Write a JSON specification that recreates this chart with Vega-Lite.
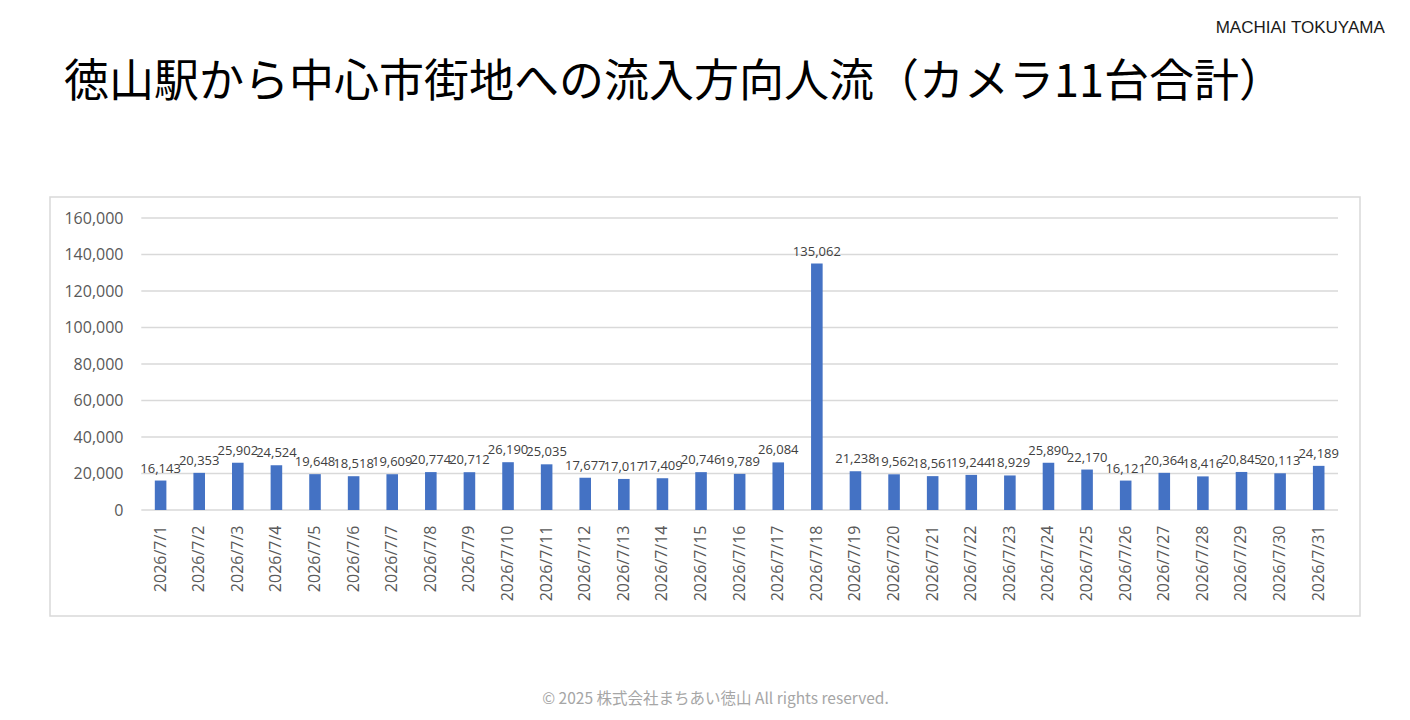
{
  "$schema": "https://vega.github.io/schema/vega-lite/v6.json",
  "padding": {"left": 49, "top": 19, "right": 0, "bottom": 0},
  "background": "white",
  "title": {
    "text": "MACHIAI TOKUYAMA",
    "anchor": "end",
    "dx": 24,
    "offset": 23,
    "font": "Liberation Sans",
    "fontSize": 17,
    "fontWeight": "normal",
    "color": "#1a1a1a"
  },
  "datasets": {
    "flow": [
      {"date": "2026/7/1", "count": 16143},
      {"date": "2026/7/2", "count": 20353},
      {"date": "2026/7/3", "count": 25902},
      {"date": "2026/7/4", "count": 24524},
      {"date": "2026/7/5", "count": 19648},
      {"date": "2026/7/6", "count": 18518},
      {"date": "2026/7/7", "count": 19609},
      {"date": "2026/7/8", "count": 20774},
      {"date": "2026/7/9", "count": 20712},
      {"date": "2026/7/10", "count": 26190},
      {"date": "2026/7/11", "count": 25035},
      {"date": "2026/7/12", "count": 17677},
      {"date": "2026/7/13", "count": 17017},
      {"date": "2026/7/14", "count": 17409},
      {"date": "2026/7/15", "count": 20746},
      {"date": "2026/7/16", "count": 19789},
      {"date": "2026/7/17", "count": 26084},
      {"date": "2026/7/18", "count": 135062},
      {"date": "2026/7/19", "count": 21238},
      {"date": "2026/7/20", "count": 19562},
      {"date": "2026/7/21", "count": 18561},
      {"date": "2026/7/22", "count": 19244},
      {"date": "2026/7/23", "count": 18929},
      {"date": "2026/7/24", "count": 25890},
      {"date": "2026/7/25", "count": 22170},
      {"date": "2026/7/26", "count": 16121},
      {"date": "2026/7/27", "count": 20364},
      {"date": "2026/7/28", "count": 18416},
      {"date": "2026/7/29", "count": 20845},
      {"date": "2026/7/30", "count": 20113},
      {"date": "2026/7/31", "count": 24189}
    ],
    "grid": [
      {"g": 0}, {"g": 20000}, {"g": 40000}, {"g": 60000}, {"g": 80000},
      {"g": 100000}, {"g": 120000}, {"g": 140000}, {"g": 160000}
    ]
  },
  "vconcat": [
    {
      "title": {
        "text": "徳山駅から中心市街地への流入方向人流（カメラ11台合計）",
        "anchor": "start",
        "dx": 14,
        "offset": 91,
        "font": "Noto Sans CJK JP",
        "fontSize": 45,
        "fontWeight": "normal",
        "color": "#000000"
      },
      "width": 1310,
      "height": 419,
      "view": {"stroke": "#d9d9d9", "strokeWidth": 1.5},
      "encoding": {
        "x": {
          "field": "date",
          "type": "nominal",
          "scale": {
            "type": "band",
            "domain": [
              "2026/7/1", "2026/7/2", "2026/7/3", "2026/7/4", "2026/7/5",
              "2026/7/6", "2026/7/7", "2026/7/8", "2026/7/9", "2026/7/10",
              "2026/7/11", "2026/7/12", "2026/7/13", "2026/7/14", "2026/7/15",
              "2026/7/16", "2026/7/17", "2026/7/18", "2026/7/19", "2026/7/20",
              "2026/7/21", "2026/7/22", "2026/7/23", "2026/7/24", "2026/7/25",
              "2026/7/26", "2026/7/27", "2026/7/28", "2026/7/29", "2026/7/30",
              "2026/7/31"
            ],
            "range": [91.3, 1288],
            "paddingInner": 0.7,
            "paddingOuter": 0.35
          },
          "axis": {
            "title": "© 2025 株式会社まちあい徳山  All rights reserved.",
            "titleFont": "Noto Sans CJK JP",
            "titleFontSize": 15.5,
            "titleFontWeight": "normal",
            "titleColor": "#a6a6a6",
            "titlePadding": 91,
            "titleX": 665,
            "offset": -106,
            "labelAngle": -90,
            "labelPadding": 15,
            "labelFont": "Open Sans",
            "labelFontSize": 16,
            "labelColor": "#595959",
            "domain": false,
            "ticks": false,
            "grid": false
          }
        },
        "y": {
          "field": "count",
          "type": "quantitative",
          "scale": {"domain": [-58082, 171507], "nice": false, "zero": false},
          "axis": {
            "title": null,
            "values": [0, 20000, 40000, 60000, 80000, 100000, 120000, 140000, 160000],
            "format": ",d",
            "offset": -83,
            "labelPadding": 10,
            "labelFont": "Open Sans",
            "labelFontSize": 16,
            "labelColor": "#595959",
            "domain": false,
            "ticks": false,
            "grid": false
          }
        }
      },
      "layer": [
        {
          "data": {"name": "grid"},
          "mark": {"type": "rule", "stroke": "#d9d9d9", "strokeWidth": 1.3, "xOffset": -19.3, "x2Offset": 19.3},
          "encoding": {
            "x": {"datum": "2026/7/1", "type": "nominal"},
            "x2": {"datum": "2026/7/31"},
            "y": {"field": "g", "type": "quantitative"}
          }
        },
        {
          "data": {"name": "flow"},
          "mark": {"type": "bar", "color": "#4472c4"}
        },
        {
          "data": {"name": "flow"},
          "mark": {
            "type": "text",
            "baseline": "bottom",
            "dy": -5,
            "font": "Open Sans",
            "fontSize": 13,
            "color": "#404040"
          },
          "encoding": {
            "text": {"field": "count", "type": "quantitative", "format": ","}
          }
        }
      ]
    }
  ]
}
